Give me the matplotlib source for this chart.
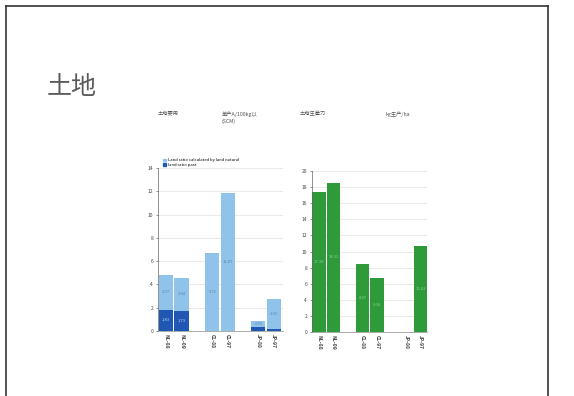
import matplotlib
matplotlib.use("Agg")
import matplotlib.pyplot as plt
from matplotlib.lines import Line2D
from matplotlib.patches import Patch

plt.rcParams['font.family'] = ['Noto Sans CJK SC', 'DejaVu Sans']

W, H = 574, 396

categories = ["NL-88", "NL-09", "CL-88", "CL-97", "JP-88", "JP-97"]
positions = [0, 1, 3, 4, 6, 7]

# land use per 100 kg (stacked: past part + calculated part)
land_past = [1.83, 1.73, 0.0, 0.0, 0.35, 0.13]
land_calc = [2.97, 2.84, 6.71, 11.87, 0.55, 2.65]
# land productivity, kg/ha
productivity = [17.38, 18.52, 8.47, 6.68, 0.0, 10.63]

left_ticks = [0, 2, 4, 6, 8, 10, 12, 14]
right_ticks = [0, 2, 4, 6, 8, 10, 12, 14, 16, 18, 20]

light_blue = "#8fc3ea"
dark_blue = "#1f57b2"
green = "#2e9a3a"
grid_c = "#e2dede"

fig = plt.figure(figsize=(W / 100, H / 100), dpi=100)
fig.patch.set_facecolor("white")


def px(x0, y0, x1, y1):
    return [x0 / W, 1 - y1 / H, (x1 - x0) / W, (y1 - y0) / H]


# slide frame
fig.add_artist(Line2D([6 / W, 6 / W], [0, 1 - 6 / H], color="#333333", lw=1.2))
fig.add_artist(Line2D([6 / W, 548 / W], [1 - 6 / H, 1 - 6 / H], color="#333333", lw=1.2))
fig.add_artist(Line2D([548 / W, 548 / W], [0, 1 - 6 / H], color="#333333", lw=1.2))

fig.text(47 / W, 1 - 87 / H, "土地", fontsize=18, color="#5a5a5a", va="center", ha="left")

# column headers
hdr = dict(fontsize=3.8, color="#555555", va="top", ha="left")
fig.text(158 / W, 1 - 111 / H, "土地要用", **hdr)
fig.text(222 / W, 1 - 111 / H, "单产A/100kg以\n(SCM)", linespacing=1.3, **hdr)
fig.text(300 / W, 1 - 111 / H, "土地生産力", **hdr)
fig.text(385 / W, 1 - 111 / H, "kg生产/ha", **hdr)


def style_axes(ax, ticks):
    ax.set_yticks(ticks)
    ax.set_ylim(ticks[0], ticks[-1])
    ax.tick_params(axis="y", labelsize=3.5, length=1.5, width=0.4, pad=2, colors="#444444")
    ax.tick_params(axis="x", labelsize=3.6, length=0, pad=2, colors="#444444")
    for s in ["top", "right"]:
        ax.spines[s].set_visible(False)
    ax.spines["left"].set_color("#666666")
    ax.spines["left"].set_linewidth(0.5)
    ax.spines["bottom"].set_color("#888888")
    ax.spines["bottom"].set_linewidth(0.5)
    ax.yaxis.grid(True, color=grid_c, lw=0.5)
    ax.set_axisbelow(True)
    ax.set_xticks(positions)
    ax.set_xticklabels(categories, rotation=-90, fontweight="bold")


# left: land use, stacked bars
ax1 = fig.add_axes(px(158, 168, 283, 331))
ax1.bar(positions, land_past, width=0.92, color=dark_blue)
ax1.bar(positions, land_calc, width=0.92, bottom=land_past, color=light_blue)
for p, a, b in zip(positions, land_past, land_calc):
    if a > 1:
        ax1.text(p, a / 2, f"{a:.2f}", ha="center", va="center", fontsize=3, color="#b9d3f0")
    ax1.text(p, a + b / 2, f"{b:.2f}", ha="center", va="center", fontsize=3, color="#5f86ad")
style_axes(ax1, left_ticks)
ax1.set_xlim(-0.53, 7.6)
ax1.legend(handles=[Patch(color=light_blue, label="Land ratio calculated by land natural"),
                    Patch(color=dark_blue, label="land ratio past")],
           loc="lower left", bbox_to_anchor=(0.02, 0.99), frameon=False,
           fontsize=3, handlelength=0.8, handleheight=0.6, handletextpad=0.4,
           labelspacing=0.2, borderpad=0.1)

# right: land productivity
ax2 = fig.add_axes(px(312, 171, 427, 332))
ax2.bar(positions, productivity, width=0.92, color=green)
for p, v in zip(positions, productivity):
    if v > 0:
        ax2.text(p, v / 2, f"{v:.2f}", ha="center", va="center", fontsize=3, color="#86cf90")
style_axes(ax2, right_ticks)
ax2.set_xlim(-0.48, 7.45)

fig.savefig("out.png", dpi=100, facecolor="white")
